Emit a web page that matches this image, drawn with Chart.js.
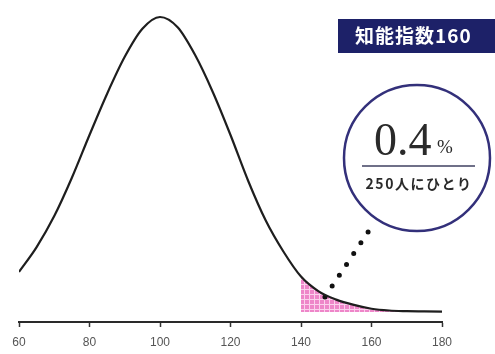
<!DOCTYPE html>
<html>
<head>
<meta charset="utf-8">
<script src="https://cdn.jsdelivr.net/npm/chart.js@4.4.1/dist/chart.umd.min.js"></script>
<style>
  html, body { margin: 0; padding: 0; background: #ffffff; }
  #wrap { width: 495px; height: 354px; position: relative; }
</style>
</head>
<body>
<div id="wrap"><canvas id="c"></canvas></div>
<script>
// IQ values (x) and relative curve height (peak = 100)
const iq = [60, 65, 70, 75, 80, 85, 90, 95, 100, 105, 110, 115, 120, 125, 130, 135, 140, 145, 150, 155, 160, 165, 170, 175, 180];
const height = [13.6, 22.0, 32.5, 45.5, 60.0, 74.0, 86.5, 96.0, 100, 96.5, 87.0, 74.5, 60.0, 44.5, 31.0, 20.5, 12.0, 7.0, 4.2, 2.4, 1.1, 0.5, 0.3, 0.2, 0.1];
const shadeFrom = 140;                 // IQ where the highlighted tail starts
const pointerIq = [146.8, 159.4];      // dotted pointer line (IQ)
const pointerH = [5.1, 27.8];          // dotted pointer line (height)
const xTicks = [60, 80, 100, 120, 140, 160, 180];
const boxLabel = '知能指数160';
const bigValue = '0.4';
const bigUnit = '%';
const subLabel = '250人にひとり';

const curvePts = iq.map((x, i) => ({ x, y: height[i] }));
const tailPts = curvePts.filter(p => p.x >= shadeFrom);
const pointerPts = pointerIq.map((x, i) => ({ x, y: pointerH[i] }));

// pink dotted pattern
const tile = document.createElement('canvas');
tile.width = 5; tile.height = 5;
const tc = tile.getContext('2d');
tc.fillStyle = '#fbd0ec';
tc.fillRect(0, 0, 5, 5);
tc.fillStyle = '#ee86c9';
tc.fillRect(0, 0, 4, 4);
const pinkPattern = tc.createPattern(tile, 'repeat');

const overlay = {
  id: 'overlay',
  afterDraw(chart) {
    const ctx = chart.ctx;
    ctx.save();
    // label box
    ctx.fillStyle = '#1d2168';
    ctx.fillRect(338, 19, 157, 34);
    ctx.fillStyle = '#ffffff';
    ctx.font = 'bold 19px "Noto Sans CJK JP", sans-serif';
    ctx.textBaseline = 'middle';
    ctx.textAlign = 'left';
    if ('letterSpacing' in ctx) ctx.letterSpacing = '1px';
    ctx.fillText(boxLabel, 355, 36);
    if ('letterSpacing' in ctx) ctx.letterSpacing = '0px';

    // circle
    ctx.beginPath();
    ctx.arc(417, 158, 73, 0, Math.PI * 2);
    ctx.fillStyle = '#ffffff';
    ctx.fill();
    ctx.lineWidth = 2.5;
    ctx.strokeStyle = '#33307a';
    ctx.stroke();

    // big value
    ctx.fillStyle = '#2a2a2a';
    ctx.font = '46px "Liberation Serif", "DejaVu Serif", serif';
    ctx.textBaseline = 'alphabetic';
    ctx.textAlign = 'left';
    ctx.fillText(bigValue, 374, 155);
    ctx.font = '19px "Liberation Serif", serif';
    ctx.fillText(bigUnit, 437, 153);

    // separator
    ctx.strokeStyle = '#6f7088';
    ctx.lineWidth = 2;
    ctx.beginPath();
    ctx.moveTo(362, 166);
    ctx.lineTo(475, 166);
    ctx.stroke();

    // sub label
    ctx.fillStyle = '#2a2a2a';
    ctx.font = 'bold 14px "Noto Sans CJK JP", sans-serif';
    ctx.textAlign = 'center';
    ctx.textBaseline = 'middle';
    if ('letterSpacing' in ctx) ctx.letterSpacing = '1.5px';
    ctx.fillText(subLabel, 419, 184);
    ctx.restore();
  }
};

new Chart(document.getElementById('c'), {
  type: 'line',
  data: {
    datasets: [
      {
        data: curvePts,
        borderColor: '#1e1e1e',
        borderWidth: 2.2,
        pointRadius: 0,
        cubicInterpolationMode: 'monotone',
        fill: false,
        order: 0
      },
      {
        data: pointerPts,
        borderColor: '#111111',
        borderWidth: 5,
        borderDash: [0, 13],
        borderCapStyle: 'round',
        pointRadius: 0,
        fill: false,
        order: 1
      },
      {
        data: tailPts,
        borderWidth: 0,
        borderColor: 'rgba(0,0,0,0)',
        pointRadius: 0,
        cubicInterpolationMode: 'monotone',
        backgroundColor: pinkPattern,
        fill: { value: 0 },
        order: 2
      }
    ]
  },
  options: {
    responsive: true,
    maintainAspectRatio: false,
    animation: false,
    layout: { padding: { left: 19, right: 53, top: 0, bottom: 0 } },
    plugins: { legend: { display: false }, tooltip: { enabled: false } },
    scales: {
      x: {
        type: 'linear',
        min: 60,
        max: 180,
        afterBuildTicks(axis) { axis.ticks = xTicks.map(v => ({ value: v })); },
        afterFit(axis) { axis.height = 32; },
        grid: { drawOnChartArea: false, drawTicks: true, tickLength: 5, tickColor: '#333333', tickWidth: 1.5 },
        border: { display: true, color: '#2a2a2a', width: 2 },
        ticks: { color: '#555555', padding: 8, font: { family: 'Liberation Sans, Arial, sans-serif', size: 12 }, maxRotation: 0, autoSkip: false }
      },
      y: {
        display: false,
        min: -3.39,
        max: 105.76
      }
    }
  },
  plugins: [overlay]
});
</script>
</body>
</html>
